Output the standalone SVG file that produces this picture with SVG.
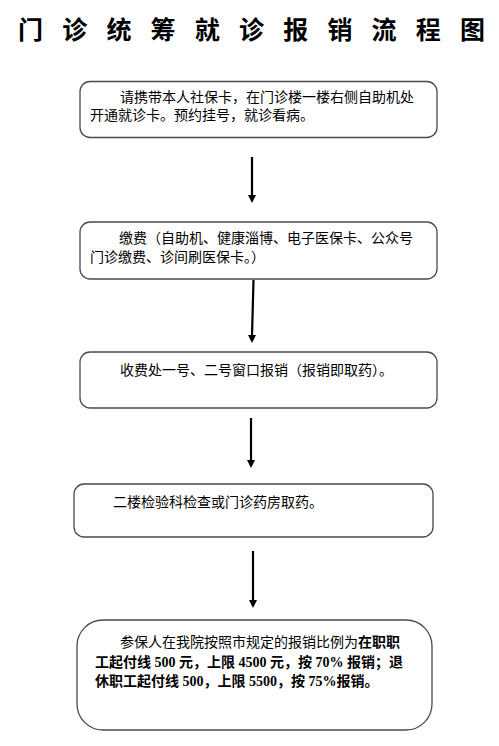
<svg xmlns="http://www.w3.org/2000/svg" width="499" height="746" viewBox="0 0 499 746">
<style>
.box{fill:#fff;stroke:#4a4a4a;stroke-width:1.3}
.t{font-family:"Noto Sans CJK SC","Noto Sans",sans-serif;font-size:14px;fill:#000}
.b{font-family:"Liberation Serif","Noto Sans CJK SC",serif;font-weight:bold}
.bc{font-family:"Noto Sans CJK SC",sans-serif;font-weight:bold}
.title{font-family:"Noto Sans CJK SC",sans-serif;font-size:25px;font-weight:bold;fill:#000}
.arr{stroke:#000;stroke-width:2.2;fill:none}
</style>
<rect width="499" height="746" fill="#fff"/>
<text class="title" x="18 62.2 106.4 150.6 194.8 239 283.2 327.4 371.6 415.8 460" y="39">门诊统筹就诊报销流程图</text>
<g id="connectors">
<line class="arr" x1="252" y1="157" x2="252" y2="196"/><path d="M248,195 L256,195 L252,203 Z"/>
<line class="arr" x1="253.5" y1="280" x2="252" y2="336"/><path d="M248,335 L256,335 L252,343 Z"/>
<line class="arr" x1="251" y1="418" x2="251" y2="461"/><path d="M247,460 L255,460 L251,468 Z"/>
<line class="arr" x1="253" y1="551" x2="253" y2="601"/><path d="M249,600 L257,600 L253,608 Z"/>
</g>
<g id="n1">
<rect class="box" x="80" y="81.5" width="357" height="56" rx="10"/>
<text class="t" x="120" y="102">请携带本人社保卡，在门诊楼一楼右侧自助机处</text>
<text class="t" x="90" y="120">开通就诊卡。预约挂号，就诊看病。</text>
</g>
<g id="n2">
<rect class="box" x="80" y="222" width="357" height="57" rx="10"/>
<text class="t" x="119" y="243">缴费（自助机、健康淄博、电子医保卡、公众号</text>
<text class="t" x="90" y="262">门诊缴费、诊间刷医保卡。）</text>
</g>
<g id="n3">
<rect class="box" x="80" y="352" width="357" height="56" rx="10"/>
<text class="t" x="120" y="375">收费处一号、二号窗口报销（报销即取药）。</text>
</g>
<g id="n4">
<rect class="box" x="74" y="484" width="359" height="53" rx="10"/>
<text class="t" x="113" y="507">二楼检验科检查或门诊药房取药。</text>
</g>
<g id="n5">
<rect class="box" x="77" y="620" width="355" height="110" rx="26"/>
<text class="t" x="120" y="647">参保人在我院按照市规定的报销比例为<tspan class="bc">在职职</tspan></text>
<text class="t" x="95" y="667"><tspan class="bc">工起付线</tspan><tspan class="b"> 500 </tspan><tspan class="bc">元，上限</tspan><tspan class="b"> 4500 </tspan><tspan class="bc">元，按</tspan><tspan class="b"> 70% </tspan><tspan class="bc">报销；退</tspan></text>
<text class="t" x="95" y="686"><tspan class="bc">休职工起付线</tspan><tspan class="b"> 500</tspan><tspan class="bc">，上限</tspan><tspan class="b"> 5500</tspan><tspan class="bc">，按</tspan><tspan class="b"> 75%</tspan><tspan class="bc">报销。</tspan></text>
</g>
</svg>
